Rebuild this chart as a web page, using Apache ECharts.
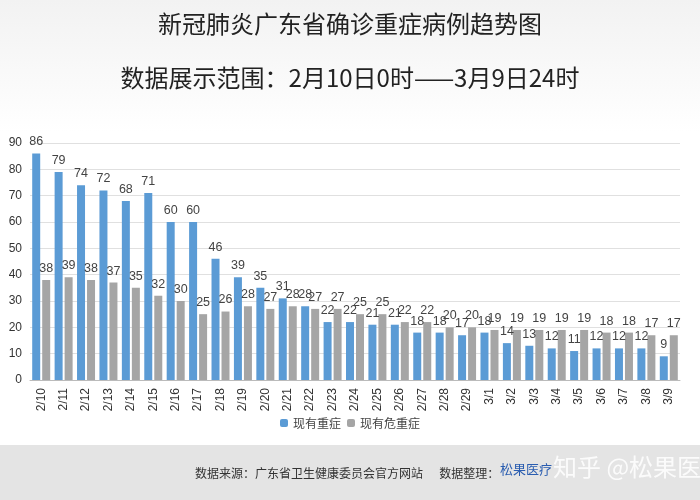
<!DOCTYPE html><html><head><meta charset="utf-8"><script src="https://cdn.jsdelivr.net/npm/echarts@6/dist/echarts.min.js"></script>
<style>html,body{margin:0;padding:0}#c{width:700px;height:500px}</style></head><body><div id="c"></div><script>
const categories=['2/10','2/11','2/12','2/13','2/14','2/15','2/16','2/17','2/18','2/19','2/20','2/21','2/22','2/23','2/24','2/25','2/26','2/27','2/28','2/29','3/1','3/2','3/3','3/4','3/5','3/6','3/7','3/8','3/9'];
const severe=[86,79,74,72,68,71,60,60,46,39,35,31,28,22,22,21,21,18,18,17,18,14,13,12,11,12,12,12,9];
const critical=[38,39,38,37,35,32,30,25,26,28,27,28,27,27,25,25,22,22,20,20,19,19,19,19,19,18,18,17,17];
const yTicks=[0,10,20,30,40,50,60,70,80,90];
const c=echarts.init(document.getElementById('c'));
const F='"Noto Sans CJK SC",sans-serif';
c.setOption({
 backgroundColor:'#fff',
 graphic:[
  {type:'rect',shape:{x:0,y:0,width:700,height:132},style:{fill:new echarts.graphic.LinearGradient(0,0,0,1,[{offset:0,color:'#f2f2f2'},{offset:1,color:'#ffffff'}])},z:-1},
  {type:'rect',shape:{x:0,y:445,width:700,height:55},style:{fill:'#e4e4e4'},z:-1},
  {type:'text',left:'center',top:12,style:{text:'新冠肺炎广东省确诊重症病例趋势图',font:'24px '+F,fill:'#222'}},
  {type:'text',left:'center',top:66,style:{text:'数据展示范围：2月10日0时——3月9日24时',font:'24px '+F,fill:'#222'}},
  {type:'text',left:195,top:467,style:{text:'数据来源：广东省卫生健康委员会官方网站      数据整理：',font:'12px '+F,fill:'#333'}},
  {type:'text',left:500,top:463,style:{text:'松果医疗',font:'13px '+F,fill:'#2a5db0'}},
  {type:'text',left:553,top:455,style:{text:'知乎 @松果医疗',font:'24px '+F,fill:'rgba(255,255,255,0.85)'}}
 ],
 legend:{bottom:66,itemWidth:8,itemHeight:8,itemGap:6,textStyle:{fontSize:12,fontFamily:F,color:'#444'},data:['现有重症','现有危重症']},
 grid:{left:30,right:20,top:143,bottom:120},
 xAxis:{type:'category',data:categories,axisTick:{show:false},axisLine:{lineStyle:{color:'#bbb'}},axisLabel:{rotate:90,color:'#333',fontSize:12,margin:8}},
 yAxis:{type:'value',min:0,max:90,interval:10,axisLabel:{color:'#333',fontSize:12,formatter:v=>yTicks.includes(v)?v:''},splitLine:{lineStyle:{color:'#e0e0e0'}}},
 series:[
  {name:'现有重症',type:'bar',data:severe,barWidth:8,barGap:'25%',itemStyle:{color:'#5b9bd5'},label:{show:true,position:'top',color:'#444',fontSize:12.5}},
  {name:'现有危重症',type:'bar',data:critical,barWidth:8,itemStyle:{color:'#a5a5a5'},label:{show:true,position:'top',color:'#444',fontSize:12.5}}
 ]
});
</script></body></html>
